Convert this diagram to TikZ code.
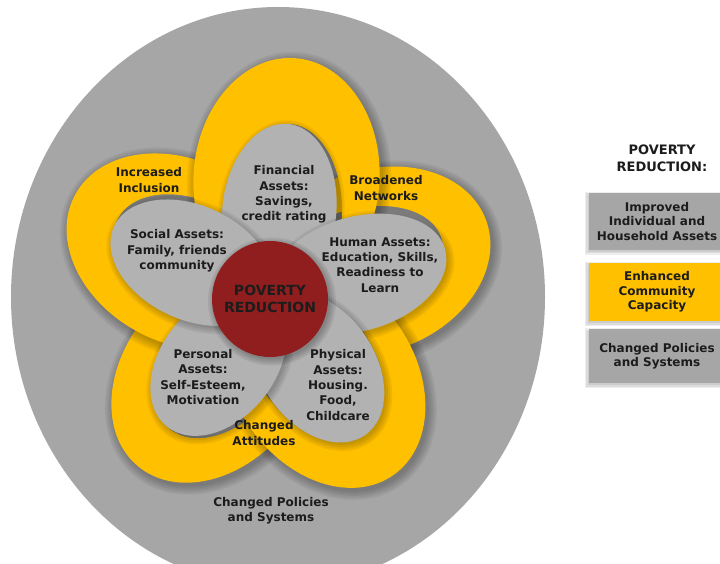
\documentclass[tikz,border=0pt]{standalone}
\usepackage{fontspec}
\usetikzlibrary{calc}
\setmainfont{DejaVu Sans}
\definecolor{bggray}{RGB}{166,166,166}
\definecolor{petgray}{RGB}{178,178,178}
\definecolor{ylw}{RGB}{255,192,0}
\definecolor{redc}{RGB}{145,30,30}
\definecolor{txt}{RGB}{28,28,28}
% ring: #1 angle, #2 outer tip, #3 inner tip, #4 lateral offset, #5 outer half width
\newcommand{\ringloop}[5]{%
  \begin{scope}[shift={($(C)+(2.5,-3)$)}, rotate=#1, shift={(0,#4)}]
    \foreach \e in {9,7,5,3,1} {
      \fill[black, opacity=0.055, even odd rule]
        ({#2-120},0) ellipse [x radius={(120+\e)*1pt}, y radius={(#5+\e)*1pt}]
        ({#3/2-5},0) ellipse [x radius={(#3/2+5-\e)*1pt}, y radius={(58-\e)*1pt}];
    }
  \end{scope}
  \begin{scope}[shift={(C)}, rotate=#1, shift={(0,#4)}]
    \fill[ylw, even odd rule]
      ({#2-120},0) ellipse [x radius=120pt, y radius={#5*1pt}]
      ({#3/2-5},0) ellipse [x radius={(#3/2+5)*1pt}, y radius=58pt];
  \end{scope}}
% petal: #1 angle, #2 tip
\newcommand{\petal}[2]{%
  \begin{scope}[shift={($(C)+(2,-2.5)$)}, rotate=#1]
    \foreach \e in {6,4,2,0} {
      \fill[black, opacity=0.06]
        ({#2/2},0) ellipse [x radius={(#2/2+\e)*1pt}, y radius={(57+\e)*1pt}];
    }
  \end{scope}
  \begin{scope}[shift={(C)}, rotate=#1]
    \fill[petgray] ({#2/2},0) ellipse [x radius={(#2/2)*1pt}, y radius=57pt];
  \end{scope}}
\begin{document}
\begin{tikzpicture}[x=1pt,y=1pt,
  lbl/.style={font=\bfseries\fontsize{12}{15.3}\selectfont, text=txt, align=center, inner sep=0pt},
  bigl/.style={font=\bfseries\fontsize{14}{16.7}\selectfont, text=txt, align=center, inner sep=0pt},
  legbox/.style={minimum width=136pt, inner sep=0pt, font=\bfseries\fontsize{12}{14.5}\selectfont, text=txt, align=center}]
\useasboundingbox (0,0) rectangle (720,563);
\fill[white] (0,0) rectangle (720,563);
\clip (0,0) rectangle (720,563);
% outer disc
\fill[bggray] (278,266) ellipse [x radius=267pt, y radius=290pt];
\coordinate (C) at (270,264);
% yellow loops
\ringloop{-130}{213}{164}{6}{90}
\ringloop{20}{230}{182}{0}{91}
\ringloop{-55}{215}{166}{0}{90}
\ringloop{152}{221}{172}{0}{91}
\ringloop{86}{242}{176}{-8}{93}
% petals
\petal{84}{176}
\petal{16}{182}
\petal{-55}{166}
\petal{-129}{164}
\petal{155}{172}
% centre
\foreach \e in {6,4,2,0} {\fill[black, opacity=0.07] ($(C)+(2,-2.5)$) circle [radius={(58+\e)*1pt}];}
\node[circle, fill=redc, minimum size=116pt, inner sep=0pt] (core) at (C) {};
\node[bigl] (coretext) at (270,264) {POVERTY\\REDUCTION};
% petal labels
\node[lbl] (fin) at (284,368.5) {Financial\\Assets:\\Savings,\\credit rating};
\node[lbl] (soc) at (177,312) {Social Assets:\\Family, friends\\community};
\node[lbl] (hum) at (380,298) {Human Assets:\\Education, Skills,\\Readiness to\\Learn};
\node[lbl] (per) at (203,186) {Personal\\Assets:\\Self-Esteem,\\Motivation};
\node[lbl] (phy) at (338,178) {Physical\\Assets:\\Housing.\\Food,\\Childcare};
% loop labels
\node[lbl] (inc) at (149,383) {Increased\\Inclusion};
\node[lbl] (bro) at (386,375) {Broadened\\Networks};
\node[lbl] (att) at (264,130) {Changed\\Attitudes};
\node[lbl] (pol) at (271,52) {Changed Policies\\and Systems};
% legend
\node[lbl, font=\bfseries\fontsize{13}{16.5}\selectfont] (legtitle) at (662,404.5) {POVERTY\\REDUCTION:};
\foreach \e in {3,1.5,0} {\fill[black, opacity=0.07] (589-\e-1.5,313-\e-2) rectangle (725,370+\e-2);}
\node[legbox, fill=bggray, minimum height=57pt] (box1) at (657,341.5) {Improved\\Individual and\\Household Assets};
\foreach \e in {3,1.5,0} {\fill[black, opacity=0.07] (589-\e-1.5,242-\e-2) rectangle (725,300+\e-2);}
\node[legbox, fill=ylw, minimum height=58pt] (box2) at (657,271) {Enhanced\\Community\\Capacity};
\foreach \e in {3,1.5,0} {\fill[black, opacity=0.07] (589-\e-1.5,180-\e-2) rectangle (725,234+\e-2);}
\node[legbox, fill=bggray, minimum height=54pt] (box3) at (657,207) {Changed Policies\\and Systems};
\end{tikzpicture}
\end{document}
